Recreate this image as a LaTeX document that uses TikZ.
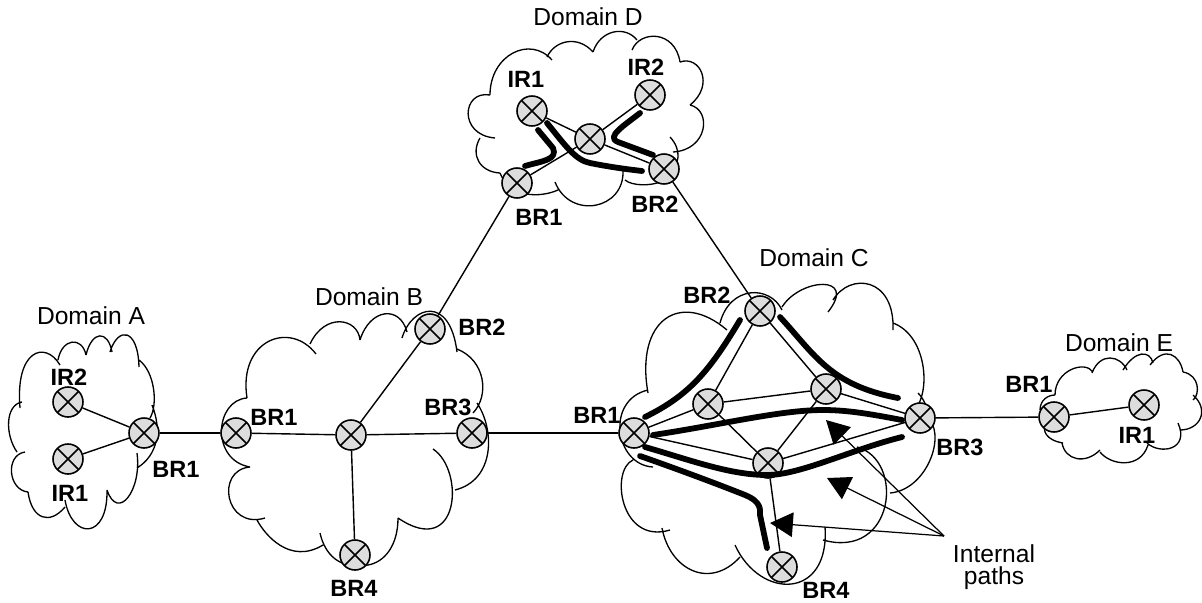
\documentclass[tikz,border=0pt]{standalone}
\usepackage{fontspec}
\setmainfont{Liberation Sans}
\usetikzlibrary{arrows.meta}
\definecolor{routergray}{HTML}{DDDDDD}
\tikzset{
    router/.style={circle, draw, line width=0.9pt, fill=routergray, minimum size=0.6cm, inner sep=0pt,
        path picture={\draw [line width=0.9pt] (path picture bounding box.north west) -- (path picture bounding box.south east)
            (path picture bounding box.north east) -- (path picture bounding box.south west);}},
    cloudline/.style={line width=0.75pt},
    link/.style={line width=0.8pt},
    internalpath/.style={line width=3.3pt, line cap=round, line join=round},
    pointer/.style={line width=0.7pt, -{Triangle[length=13pt, width=14pt]}},
    domainlabel/.style={font=\fontsize{14}{12.5}\selectfont},
    routerlabel/.style={font=\fontsize{13.4}{15}\selectfont\bfseries}
}
\begin{document}
\begin{tikzpicture}[x=0.02cm, y=-0.02cm]
                    \useasboundingbox (0, 0) rectangle (1202, 602);
                    \draw [cloudline] (58,360) .. controls (62,338) and (82,336) .. (86,355)
                        (86,355) .. controls (92,330) and (108,330) .. (112,352)
                        (110,352) .. controls (118,326) and (138,328) .. (139,367)
                        (139,360) .. controls (155,372) and (158,405) .. (150,418)
                        (152,405) .. controls (162,430) and (158,455) .. (137,468)
                        (137,453) .. controls (142,490) and (118,522) .. (107,490)
                        (107,490) .. controls (108,540) and (72,540) .. (65,500)
                        (65,507) .. controls (50,525) and (32,520) .. (28,492)
                        (28,492) .. controls (8,490) and (5,455) .. (25,452)
                        (17,452) .. controls (5,435) and (5,405) .. (22,402)
                        (20,408) .. controls (15,350) and (45,340) .. (60,365);
                    \draw [cloudline] (247,398) .. controls (238,340) and (290,320) .. (316,354)
                        (310,344) .. controls (325,312) and (358,318) .. (360,340)
                        (360,340) .. controls (370,308) and (400,305) .. (407,332)
                        (402,338) .. controls (412,305) and (450,295) .. (457,352)
                        (457,349) .. controls (485,360) and (490,395) .. (473,413)
                        (477,403) .. controls (495,430) and (495,480) .. (455,490)
                        (433,449) .. controls (465,470) and (460,560) .. (398,518)
                        (398,518) .. controls (398,545) and (385,562) .. (368,565)
                        (368,565) .. controls (340,570) and (325,555) .. (320,533)
                        (323,545) .. controls (290,565) and (265,535) .. (257,520)
                        (265,518) .. controls (225,530) and (215,470) .. (250,467)
                        (250,467) .. controls (210,460) and (215,400) .. (247,398);
                    \draw [cloudline] (648,393) .. controls (635,320) and (680,290) .. (727,330)
                        (720,323) .. controls (730,285) and (770,285) .. (782,310)
                        (782,307) .. controls (800,278) and (858,274) .. (828,312)
                        (833,300) .. controls (850,272) and (895,277) .. (893,330)
                        (893,323) .. controls (925,335) and (930,385) .. (918,405)
                        (918,393) .. controls (925,400) and (928,410) .. (930,420)
                        (930,420) .. controls (945,440) and (925,490) .. (890,493)
                        (857,447) .. controls (905,460) and (895,560) .. (823,540)
                        (825,527) .. controls (830,600) and (760,600) .. (735,545)
                        (740,557) .. controls (710,590) and (670,570) .. (662,528)
                        (670,530) .. controls (620,545) and (610,470) .. (633,460)
                        (653,467) .. controls (615,465) and (605,400) .. (648,390);
                    \draw [cloudline] (552,60) .. controls (530,35) and (490,55) .. (490,95)
                        (490,95) .. controls (462,90) and (458,135) .. (495,138)
                        (480,138) .. controls (470,155) and (480,172) .. (500,173)
                        (500,173) .. controls (510,198) and (540,198) .. (558,190)
                        (555,182) .. controls (570,220) and (625,210) .. (623,170)
                        (625,180) .. controls (632,186) and (650,186) .. (660,182)
                        (670,137) .. controls (682,150) and (680,165) .. (668,175)
                        (673,152) .. controls (708,150) and (712,110) .. (690,105)
                        (690,105) .. controls (715,85) and (700,55) .. (680,62)
                        (680,62) .. controls (675,30) and (640,30) .. (632,50)
                        (637,40) .. controls (625,25) and (600,30) .. (593,52)
                        (593,52) .. controls (578,35) and (555,40) .. (547,57);
                    \draw [cloudline] (1055,395) .. controls (1055,370) and (1085,360) .. (1093,372)
                        (1092,373) .. controls (1100,352) and (1120,355) .. (1127,370)
                        (1123,370) .. controls (1135,350) and (1150,350) .. (1153,363)
                        (1150,365) .. controls (1165,345) and (1180,355) .. (1183,372)
                        (1183,372) .. controls (1200,375) and (1200,395) .. (1193,400)
                        (1193,395) .. controls (1210,410) and (1200,430) .. (1180,430)
                        (1178,423) .. controls (1190,450) and (1160,455) .. (1147,443)
                        (1148,445) .. controls (1140,470) and (1110,465) .. (1100,452)
                        (1100,450) .. controls (1085,465) and (1065,460) .. (1062,443)
                        (1063,443) .. controls (1045,440) and (1043,430) .. (1045,425)
                        (1040,410) .. controls (1040,400) and (1048,395) .. (1055,395);
                    \node [router] (aIRtwo) at (68, 402){};
                    \node [router] (aIRone) at (68, 459){};
                    \node [router] (aBRone) at (144, 433){};
                    \node [router] (bBRone) at (236, 433){};
                    \node [router] (bHub) at (351, 435){};
                    \node [router] (bBRtwo) at (430, 329){};
                    \node [router] (bBRthree) at (472, 433){};
                    \node [router] (bBRfour) at (355, 555){};
                    \node [router] (cBRone) at (634, 433){};
                    \node [router] (cBRtwo) at (760, 311){};
                    \node [router] (cBRthree) at (920, 418){};
                    \node [router] (cBRfour) at (782, 567){};
                    \node [router] (cLeft) at (708, 404){};
                    \node [router] (cRight) at (826, 389){};
                    \node [router] (cLow) at (768, 463){};
                    \node [router] (dIRone) at (532, 111){};
                    \node [router] (dIRtwo) at (650, 95){};
                    \node [router] (dHub) at (590, 139){};
                    \node [router] (dBRone) at (517, 183){};
                    \node [router] (dBRtwo) at (664, 169){};
                    \node [router] (eBRone) at (1054, 417){};
                    \node [router] (eIRone) at (1144, 405){};
                    \draw [link] (aIRtwo) -- (aBRone);
                    \draw [link] (aIRone) -- (aBRone);
                    \draw [link] (aBRone) -- (bBRone);
                    \draw [link] (bBRone) -- (bHub);
                    \draw [link] (bHub) -- (bBRthree);
                    \draw [link] (bHub) -- (bBRtwo);
                    \draw [link] (bHub) -- (bBRfour);
                    \draw [link] (bBRtwo) -- (dBRone);
                    \draw [link] (bBRthree) -- (cBRone);
                    \draw [link] (dBRtwo) -- (cBRtwo);
                    \draw [link] (cBRthree) -- (eBRone);
                    \draw [link] (eBRone) -- (eIRone);
                    \draw [link] (dIRone) -- (dHub);
                    \draw [link] (dIRtwo) -- (dHub);
                    \draw [link] (dBRone) -- (dHub);
                    \draw [link] (dBRtwo) -- (dHub);
                    \draw [link] (cBRone) -- (cLeft);
                    \draw [link] (cBRone) -- (cLow);
                    \draw [link] (cLeft) -- (cBRtwo);
                    \draw [link] (cLeft) -- (cRight);
                    \draw [link] (cLeft) -- (cLow);
                    \draw [link] (cRight) -- (cBRtwo);
                    \draw [link] (cRight) -- (cBRthree);
                    \draw [link] (cRight) -- (cLow);
                    \draw [link] (cLow) -- (cBRthree);
                    \draw [link] (cLow) -- (cBRfour);
                    \draw [internalpath] (645,417) .. controls (690,395) and (710,370) .. (740,320);
                    \draw [internalpath] (780,317) .. controls (815,355) and (830,385) .. (898,398);
                    \draw [internalpath] (653,435) .. controls (720,425) and (780,410) .. (823,410) .. controls (850,410) and (875,415) .. (902,420);
                    \draw [internalpath] (645,447) .. controls (690,460) and (730,475) .. (767,475) .. controls (800,475) and (850,450) .. (902,437);
                    \draw [internalpath] (640,456) .. controls (680,470) and (720,485) .. (745,495) .. controls (762,502) and (760,510) .. (760,515) -- (767,548);
                    \draw [internalpath] (525,166) .. controls (542,161) and (558,160) .. (553,148) -- (538,130);
                    \draw [internalpath] (547,123) .. controls (565,145) and (575,160) .. (590,163) .. controls (610,167) and (625,169) .. (642,171);
                    \draw [internalpath] (640,113) .. controls (625,125) and (605,137) .. (618,142) -- (653,155);
                    \coordinate (pathsFork) at (944, 536);
                    \coordinate (pathsTipA) at (826, 420);
                    \coordinate (pathsTipB) at (827, 478);
                    \coordinate (pathsTipC) at (770, 523);
                    \draw [pointer] (pathsFork) -- (pathsTipA);
                    \draw [pointer] (pathsFork) -- (pathsTipB);
                    \draw [pointer] (pathsFork) -- (pathsTipC);
                    \node [domainlabel, align=center] (pathsText) at (994, 567){Internal\\paths};
                    \node [domainlabel] (domA) at (91, 316){Domain A};
                    \node [domainlabel] (domB) at (369, 297){Domain B};
                    \node [domainlabel] (domC) at (814, 258){Domain C};
                    \node [domainlabel] (domD) at (588, 17){Domain D};
                    \node [domainlabel] (domE) at (1119, 343){Domain E};
                    \node [routerlabel] (aIRtwoText) at (69, 377){IR2};
                    \node [routerlabel] (aIRoneText) at (70, 493){IR1};
                    \node [routerlabel] (aBRoneText) at (176, 469){BR1};
                    \node [routerlabel] (bBRoneText) at (274, 417){BR1};
                    \node [routerlabel] (bBRtwoText) at (482, 327){BR2};
                    \node [routerlabel] (bBRthreeText) at (448, 407){BR3};
                    \node [routerlabel] (bBRfourText) at (354, 588){BR4};
                    \node [routerlabel] (cBRoneText) at (597, 415){BR1};
                    \node [routerlabel] (cBRtwoText) at (707, 295){BR2};
                    \node [routerlabel] (cBRthreeText) at (960, 447){BR3};
                    \node [routerlabel] (cBRfourText) at (826, 590){BR4};
                    \node [routerlabel] (dIRoneText) at (526, 79){IR1};
                    \node [routerlabel] (dIRtwoText) at (646, 67){IR2};
                    \node [routerlabel] (dBRoneText) at (539, 217){BR1};
                    \node [routerlabel] (dBRtwoText) at (655, 204){BR2};
                    \node [routerlabel] (eBRoneText) at (1029, 384){BR1};
                    \node [routerlabel] (eIRoneText) at (1137, 435){IR1};
                \end{tikzpicture}
\end{document}
